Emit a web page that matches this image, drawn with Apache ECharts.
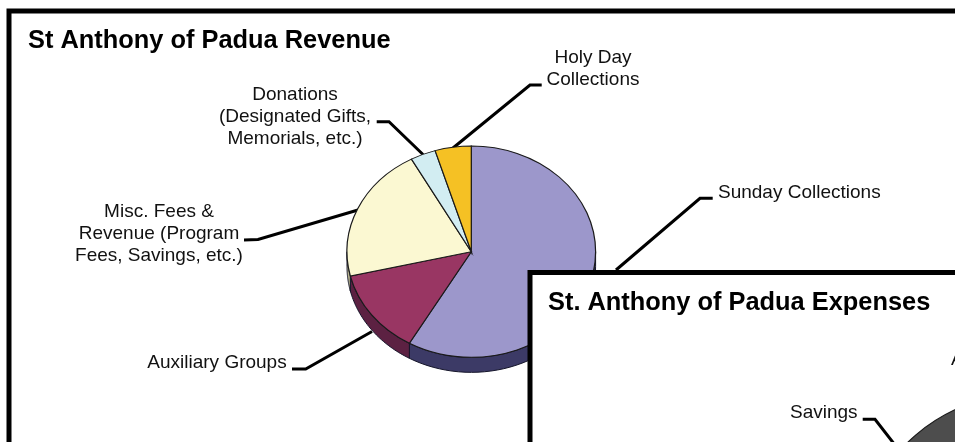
<!DOCTYPE html>
<html>
<head>
<meta charset="utf-8">
<title>St Anthony of Padua</title>
<script src="https://cdn.jsdelivr.net/npm/echarts@6/dist/echarts.min.js"></script>
<style>
html, body { margin: 0; padding: 0; background: #fff; overflow: hidden; }
#chart { width: 955px; height: 442px; }
</style>
</head>
<body>
<div id="chart"></div>
<script>
const revenueCategories = ['Sunday Collections', 'Auxiliary Groups', 'Misc. Fees &\nRevenue (Program\nFees, Savings, etc.)', 'Donations\n(Designated Gifts,\nMemorials, etc.)', 'Holy Day\nCollections']
const revenueValues = [58.3, 13.0, 20.7, 3.3, 4.7]
const revenueColors = ['#9c97cb', '#993663', '#fbf8d2', '#d2edf2', '#f5c124']
const revenueSideColors = ['#3c3a66', '#5c2142', '#b5b28e', '#8fa8ad', '#a8841a']

const expenseCategories = ['Savings', 'A']
const expenseValues = [100]
const expenseColors = ['#4d4d4d']

const TILT = 0.85
const FONT = '"Liberation Sans", Arial, sans-serif'

const chart = echarts.init(document.getElementById('chart'))

// custom series because a pie series can only be a circle, this one is tilted
const tiltedPie = (values, colors, sideColors, cx, cy, r, depth, z) => {
    const total = values.reduce((a, b) => a + b, 0)
    return {
        type: 'custom',
        coordinateSystem: 'none',
        silent: true,
        z: z,
        data: values,
        renderItem: (params, api) => {
            const i = params.dataIndex
            const before = values.slice(0, i).reduce((a, b) => a + b, 0)
            const a0 = before / total * Math.PI * 2
            const a1 = a0 + api.value(0) / total * Math.PI * 2
            const children = []

            // only the front half of the rim can be seen
            const from = Math.max(a0, Math.PI / 2)
            const to = Math.min(a1, Math.PI * 1.5)
            if (depth > 0 && to > from) {
                const top = []
                const bottom = []
                for (let k = 0; k <= 40; k++) {
                    const a = from + (to - from) * k / 40
                    const x = cx + r * Math.sin(a)
                    const y = cy - r * TILT * Math.cos(a)
                    top.push([x, y])
                    bottom.unshift([x, y + depth])
                }
                children.push({
                    type: 'polygon',
                    shape: { points: top.concat(bottom) },
                    style: { fill: sideColors[i], stroke: '#15152a', lineWidth: 1 }
                })
            }

            children.push({
                type: 'sector',
                x: cx,
                y: cy,
                scaleY: TILT,
                shape: {
                    cx: 0,
                    cy: 0,
                    r0: 0,
                    r: r,
                    startAngle: a0 - Math.PI / 2,
                    endAngle: a1 - Math.PI / 2,
                    clockwise: true
                },
                style: { fill: colors[i], stroke: '#1a1a1a', lineWidth: 1.2 }
            })
            return { type: 'group', children: children }
        }
    }
}

const textEl = (text, x, y, align, z) => ({
    type: 'text',
    z: z,
    x: x,
    y: y,
    style: {
        text: text,
        fill: '#111',
        font: '19px ' + FONT,
        lineHeight: 22,
        align: align,
        verticalAlign: 'middle'
    }
})

const titleEl = (text, x, y) => ({
    type: 'text',
    z: 6,
    x: x,
    y: y,
    style: { text: text, fill: '#000', font: 'bold 25.4px ' + FONT, align: 'left', verticalAlign: 'middle' }
})

const leader = (points, z) => ({
    type: 'polyline',
    z: z,
    shape: { points: points },
    style: { stroke: '#000', lineWidth: 3, fill: 'none' }
})

chart.setOption({
    animation: false,
    backgroundColor: '#fff',
    graphic: {
        elements: [
            { type: 'rect', z: 0, shape: { x: 9, y: 11, width: 1100, height: 600 }, style: { fill: '#fff', stroke: '#000', lineWidth: 5 } },
            titleEl('St Anthony of Padua Revenue', 28, 41),
            leader([[712.7, 198.3], [700, 198.3], [616, 270]], 1),
            leader([[292, 369], [305.7, 369], [372, 331.5]], 1),
            leader([[244, 240], [258, 239.5], [358, 210]], 1),
            leader([[376.7, 121.7], [389, 121.7], [423, 154.5]], 1),
            leader([[541.7, 85], [530, 85], [453, 148]], 1),
            textEl(revenueCategories[0], 718, 193, 'left', 1),
            textEl(revenueCategories[1], 217, 362.5, 'center', 1),
            textEl(revenueCategories[2], 159, 233.5, 'center', 1),
            textEl(revenueCategories[3], 295, 116.5, 'center', 1),
            textEl(revenueCategories[4], 593, 68.5, 'center', 1),
            { type: 'rect', z: 5, shape: { x: 530, y: 272.5, width: 600, height: 300 }, style: { fill: '#fff', stroke: '#000', lineWidth: 5 } },
            titleEl('St. Anthony of Padua Expenses', 548, 303),
            leader([[862.7, 419.3], [875, 419.3], [895, 445]], 6),
            textEl(expenseCategories[0], 790, 412.5, 'left', 6),
            textEl(expenseCategories[1], 951, 360, 'left', 6)
        ]
    },
    series: [
        tiltedPie(revenueValues, revenueColors, revenueSideColors, 471.3, 251.7, 124.3, 15, 2),
        tiltedPie(expenseValues, expenseColors, expenseColors, 1040, 539.7, 175, 0, 7)
    ]
})
</script>
</body>
</html>
